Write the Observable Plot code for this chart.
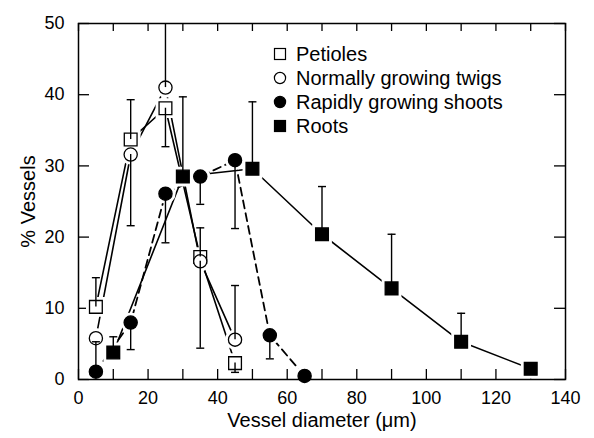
<!DOCTYPE html>
<html>
<head>
<meta charset="utf-8">
<script src="https://cdn.jsdelivr.net/npm/d3@7"></script>
<script src="https://cdn.jsdelivr.net/npm/@observablehq/plot@0.6"></script>
<style>
  html, body { margin: 0; padding: 0; background: #fff; }
  #wrap { position: relative; width: 594px; height: 438px; font-family: "Liberation Sans", Arial, Helvetica, sans-serif; }
  #legend { position: absolute; left: 273px; top: 42px; font-size: 20px; line-height: 24px; color: #000; }
  #legend .row { display: flex; align-items: center; height: 24px; white-space: nowrap; }
  #legend svg { width: 14px; height: 14px; margin-right: 9px; }
  g[aria-label="x-axis label"] text, g[aria-label="y-axis label"] text { font-size: 20px; }
</style>
</head>
<body>
<div id="wrap"><div id="chart"></div><div id="legend"></div></div>
<script>
// ---- data ----
const seriesNames = ["Petioles", "Normally growing twigs", "Rapidly growing shoots", "Roots"];

const petiolesX = [5, 15, 25, 35, 45];
const petiolesY = [10.2, 33.7, 38.1, 17.2, 2.3];
const petiolesErr = [14.3, 39.3, 32.7, 21.3, 1.0];

const twigsX = [5, 15, 25, 35, 45];
const twigsY = [5.8, 31.6, 41.0, 16.6, 5.6];
const twigsErr = [null, 21.6, 50, 4.4, 13.2];

const shootsX = [5, 15, 25, 35, 45, 55, 65];
const shootsY = [1.1, 8.0, 26.1, 28.5, 30.8, 6.2, 0.5];
const shootsErr = [5.3, 4.2, 19.2, 24.6, 21.2, 2.9, null];

const rootsX = [10, 30, 50, 70, 90, 110, 130];
const rootsY = [3.8, 28.5, 29.6, 20.4, 12.8, 5.3, 1.5];
const rootsErr = [6.0, 39.7, 39.0, 27.1, 20.4, 9.3, null];

const xTicks = [0, 20, 40, 60, 80, 100, 120, 140];
const yTicks = [0, 10, 20, 30, 40, 50];
const xMinorTicks = d3.range(0, 141, 10);
const yMinorTicks = d3.range(0, 51, 10);

// ---- build tables ----
function table(name, xs, ys, errs) {
  return xs.map((x, i) => ({series: name, x, y: ys[i], err: errs[i]}));
}
const petioles = table(seriesNames[0], petiolesX, petiolesY, petiolesErr);
const twigs = table(seriesNames[1], twigsX, twigsY, twigsErr);
const shoots = table(seriesNames[2], shootsX, shootsY, shootsErr);
const roots = table(seriesNames[3], rootsX, rootsY, rootsErr);
const all = [...petioles, ...twigs, ...shoots, ...roots];
const errs = all.filter(d => d.err != null);
const caps = errs.filter(d => d.err < 50);
const squares = [...petioles, ...roots];
const circles = [...twigs, ...shoots];

const W = 594, H = 438;
const mL = 78, mR = 29, mT = 23, mB = 59;
const fw = W - mL - mR, fh = H - mT - mB;

const capSymbol = {
  draw(ctx, size) {
    const r = Math.sqrt(size / Math.PI);
    ctx.moveTo(-r, 0); ctx.lineTo(r, 0);
  }
};

const filled = {[seriesNames[0]]: false, [seriesNames[1]]: false, [seriesNames[2]]: true, [seriesNames[3]]: true};
const fillOf = d => filled[d.series] ? "black" : "white";
const rSq = 7.2, rCi = 6.6;
const lw = 1.6;

const chart = Plot.plot({
  width: W, height: H,
  marginLeft: mL, marginRight: mR, marginTop: mT, marginBottom: mB,
  style: {fontFamily: '"Liberation Sans", Arial, Helvetica, sans-serif', fontSize: "18px", color: "#000", background: "#fff"},
  x: {domain: [0, 140], ticks: xTicks, tickSize: 0, tickPadding: 12, tickFormat: d => String(d),
      label: "Vessel diameter (μm)", labelAnchor: "center", labelOffset: 47, labelArrow: "none"},
  y: {domain: [0, 50], ticks: yTicks, tickSize: 0, tickPadding: 14, tickFormat: d => String(d),
      label: "% Vessels", labelAnchor: "center", labelOffset: 58, labelArrow: "none"},
  marks: [
    // inward ticks on all four sides
    Plot.tickX(xMinorTicks, {x: d => d, insetTop: fh - 10, stroke: "black", strokeWidth: 1.3}),
    Plot.tickX(xMinorTicks, {x: d => d, insetBottom: fh - 8, stroke: "black", strokeWidth: 1.3}),
    Plot.tickY(yMinorTicks, {y: d => d, insetRight: fw - 11, stroke: "black", strokeWidth: 1.3}),
    Plot.tickY(yMinorTicks, {y: d => d, insetLeft: fw - 11, stroke: "black", strokeWidth: 1.3}),
    // connecting lines
    Plot.line(petioles, {x: "x", y: "y", stroke: "black", strokeWidth: lw}),
    Plot.line(twigs, {x: "x", y: "y", stroke: "black", strokeWidth: lw}),
    Plot.line(shoots, {x: "x", y: "y", stroke: "black", strokeWidth: lw + 0.2, strokeDasharray: "8,5"}),
    Plot.line(roots, {x: "x", y: "y", stroke: "black", strokeWidth: lw}),
    // white gaps around markers
    Plot.dot(squares, {x: "x", y: "y", r: rSq, symbol: "square", fill: "white", stroke: "white", strokeWidth: 7}),
    Plot.dot(circles, {x: "x", y: "y", r: rCi, symbol: "circle", fill: "white", stroke: "white", strokeWidth: 7}),
    // markers
    Plot.dot(squares, {x: "x", y: "y", r: rSq, symbol: "square", fill: fillOf, stroke: "black", strokeWidth: 1.3}),
    Plot.dot(circles, {x: "x", y: "y", r: rCi, symbol: "circle", fill: fillOf, stroke: "black", strokeWidth: 1.3}),
    // error bars (drawn from the marker centre)
    Plot.ruleX(errs, {x: "x", y1: "y", y2: "err", stroke: "black", strokeWidth: 1.4, clip: true}),
    Plot.dot(caps, {x: "x", y: "err", r: 4, symbol: capSymbol, stroke: "black", strokeWidth: 1.4}),
    Plot.frame({stroke: "black", strokeWidth: 1.5})
  ]
});
document.getElementById("chart").appendChild(chart);

// ---- legend ----
const legend = document.getElementById("legend");
const legendSymbol = {[seriesNames[0]]: "square", [seriesNames[1]]: "circle", [seriesNames[2]]: "circle", [seriesNames[3]]: "square"};
seriesNames.forEach(name => {
  const row = document.createElement("div");
  row.className = "row";
  const fill = filled[name] ? "black" : "white";
  const shape = legendSymbol[name] === "square"
    ? `<rect x="1.5" y="1.5" width="11" height="11" fill="${fill}" stroke="black" stroke-width="1.2"/>`
    : `<circle cx="7" cy="7" r="5.6" fill="${fill}" stroke="black" stroke-width="1.2"/>`;
  row.innerHTML = `<svg viewBox="0 0 14 14">${shape}</svg><span>${name}</span>`;
  legend.appendChild(row);
});
</script>
</body>
</html>
